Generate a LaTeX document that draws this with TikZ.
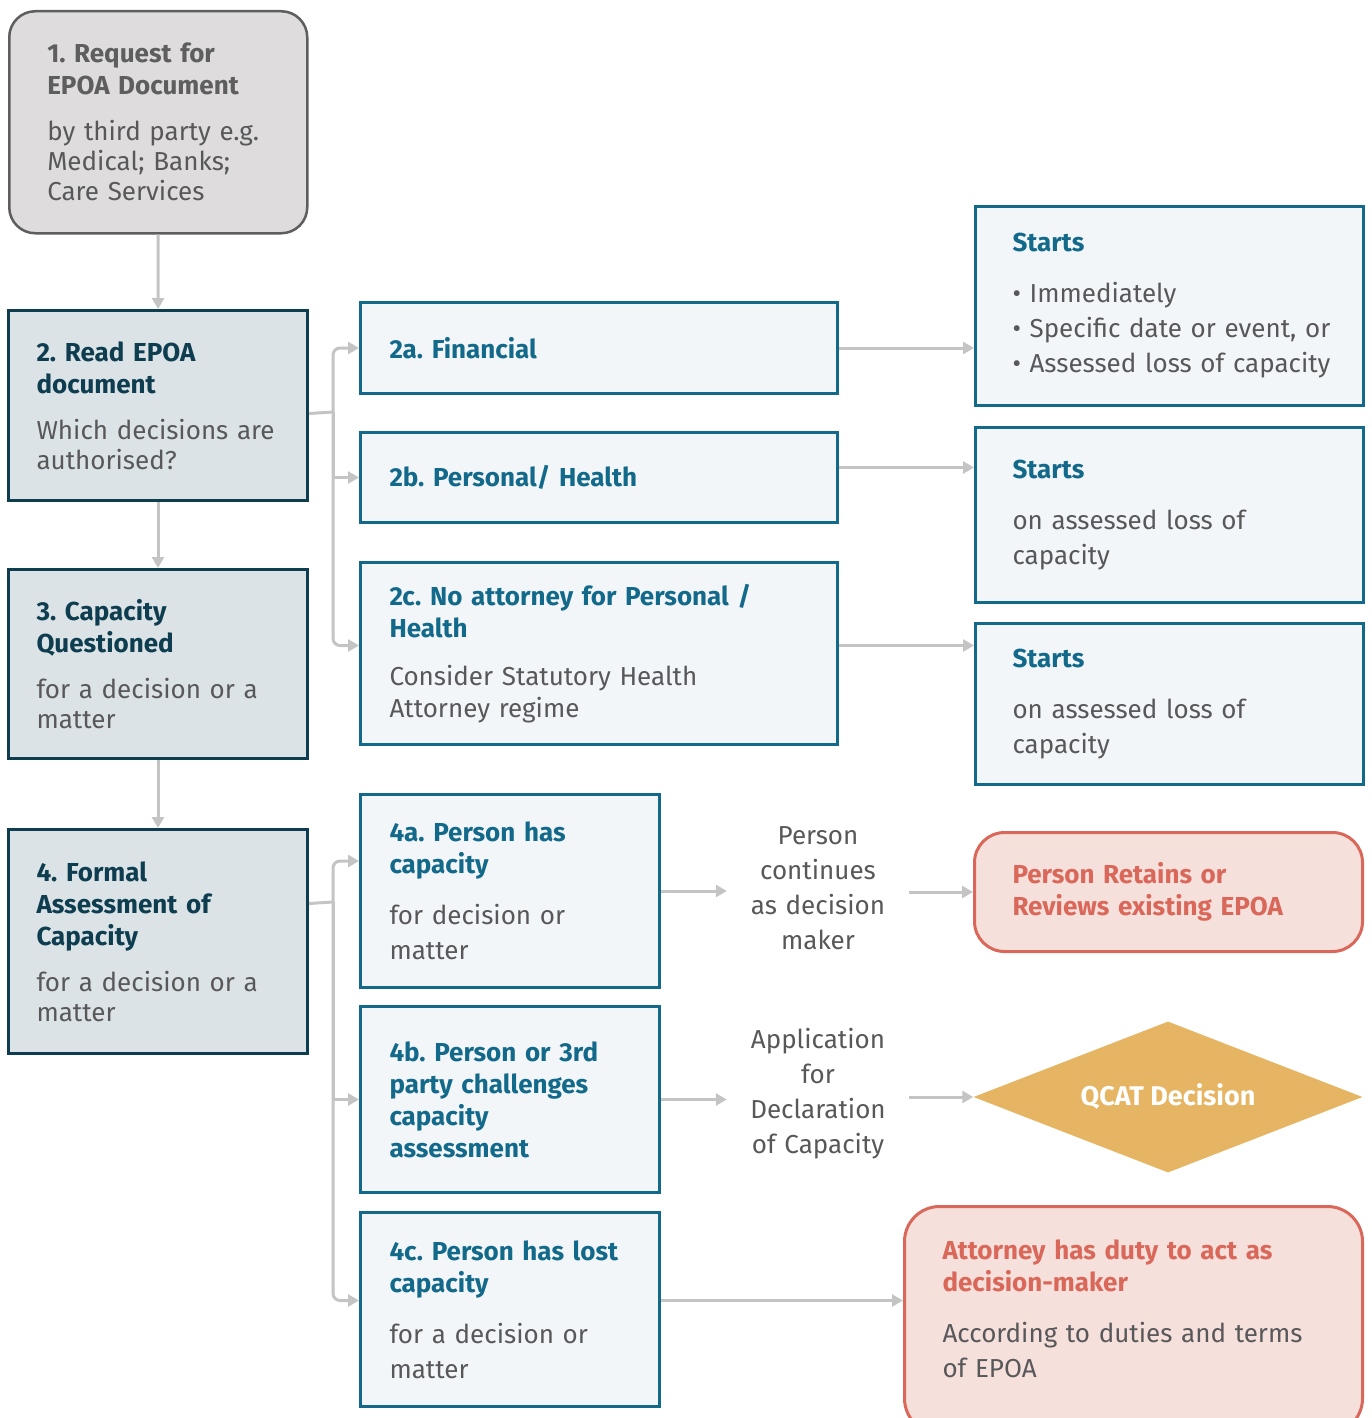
\documentclass[tikz,border=0pt]{standalone}
\usepackage{fontspec}
\setmainfont{Fira Sans}
\usetikzlibrary{arrows.meta}
\usetikzlibrary{positioning}
\usetikzlibrary{shapes.geometric}
\frenchspacing

\definecolor{reqgrey}{HTML}{DEDCDD}
\definecolor{reqedge}{HTML}{5E5E5E}
\definecolor{darkteal}{HTML}{0E3D50}
\definecolor{paleteal}{HTML}{DCE3E6}
\definecolor{midteal}{HTML}{13698A}
\definecolor{paleblue}{HTML}{F3F6F9}
\definecolor{txtgrey}{HTML}{58585A}
\definecolor{linkgrey}{HTML}{C4C4C4}
\definecolor{coral}{HTML}{D9685A}
\definecolor{palecoral}{HTML}{F6E0DB}
\definecolor{gold}{HTML}{E6B564}

\newcommand{\hd}[2]{{\color{#1}\bfseries\fontsize{26}{32}\selectfont #2\par}}
\newcommand{\gap}{\vspace{16pt}}
\newcommand{\bul}[1]{\mbox{\textbullet\ #1}}

\begin{document}
\begin{tikzpicture}[x=1pt, y=-1pt,
  box/.style={draw, line width=3pt, anchor=north west, align=left, text=txtgrey,
    font=\fontsize{26}{30}\selectfont},
  leftbox/.style={box, fill=paleteal, draw=darkteal, inner xsep=28pt, text width=243pt},
  subbox/.style={box, fill=paleblue, draw=midteal, inner xsep=29pt},
  startbox/.style={box, fill=paleblue, draw=midteal, inner xsep=37pt, text width=314pt,
    font=\fontsize{26}{35}\selectfont},
  endbox/.style={box, fill=palecoral, draw=coral, inner xsep=38pt},
  midtext/.style={align=center, text=txtgrey, text width=140pt, inner xsep=21pt,
    font=\fontsize{26}{35}\selectfont},
  link/.style={draw=linkgrey, line width=3pt, -{Triangle[length=11pt,width=12pt]}}]

\useasboundingbox (0,0) rectangle (1371,1418);
\clip (0,0) rectangle (1371,1418);

% left column
\node[box, fill=reqgrey, draw=reqedge, line width=2.5pt, rounded corners=26pt,
  inner xsep=38pt, text width=222pt, minimum height=222pt] (request) at (8,10)
  {\hd{reqedge}{1. Request for\\EPOA Document}\gap
   by third party e.g.\\Medical; Banks;\\Care Services};
\node[leftbox, minimum height=190pt] (read) at (7,309)
  {\hd{darkteal}{2. Read EPOA\\document}\gap
   Which decisions are\\authorised?};
\node[leftbox, minimum height=189pt] (capq) at (7,568)
  {\hd{darkteal}{3. Capacity\\Questioned}\gap
   for a decision or a\\matter};
\node[leftbox, minimum height=224pt] (formal) at (7,828)
  {\hd{darkteal}{4. Formal\\Assessment of\\Capacity}\gap
   for a decision or a\\matter};

% authorised decisions
\node[subbox, text width=419pt, minimum height=91pt] (fin) at (359,301)
  {\hd{midteal}{2a. Financial}};
\node[subbox, text width=419pt, minimum height=90pt] (pers) at (359,431)
  {\hd{midteal}{2b. Personal/ Health}};
\node[subbox, text width=419pt, minimum height=182pt, font=\fontsize{26}{32}\selectfont] (noatt) at (359,561)
  {\hd{midteal}{2c. No attorney for Personal /\\Health}\gap
   Consider Statutory Health\\Attorney regime};

% start of power
\node[startbox, minimum height=199pt] (start1) at (974,205)
  {\hd{midteal}{Starts}\gap
   \bul{Immediately}\\\bul{Specific date or event, or}\\\bul{Assessed loss of capacity}};
\node[startbox, minimum height=175pt] (start2) at (974,426)
  {\hd{midteal}{Starts}\gap
   on assessed loss of\\capacity};
\node[startbox, minimum height=161pt] (start3) at (974,622)
  {\hd{midteal}{Starts}\gap
   on assessed loss of\\capacity};

% assessment outcomes
\node[subbox, text width=241pt, minimum height=193pt, font=\fontsize{26}{35}\selectfont] (hascap) at (359,793)
  {\hd{midteal}{4a. Person has\\capacity}\gap
   for decision or\\matter};
\node[subbox, text width=241pt, minimum height=186pt] (challenge) at (359,1005)
  {\hd{midteal}{4b. Person or 3rd\\party challenges\\capacity\\assessment}};
\node[subbox, text width=241pt, minimum height=194pt, font=\fontsize{26}{35}\selectfont] (lostcap) at (359,1211)
  {\hd{midteal}{4c. Person has lost\\capacity}\gap
   for a decision or\\matter};

\node[midtext] (continues) at (818,888) {Person\\continues\\as decision\\maker};
\node[midtext] (applic) at (818,1094) {Application\\for\\Declaration\\of Capacity};

\node[endbox, rounded corners=30pt, text width=312pt, minimum height=119pt] (retain) at (973,831)
  {\hd{coral}{Person Retains or\\Reviews existing EPOA}};
\node[diamond, shape aspect=2.58, fill=gold, inner sep=0pt, minimum width=389pt, minimum height=151pt,
  text=white, font=\fontsize{27}{30}\selectfont\bfseries] (qcat) at (1168,1097) {QCAT Decision};
\node[endbox, rounded corners=35pt, text width=382pt, minimum height=227pt,
  font=\fontsize{26}{35}\selectfont] (duty) at (903,1205)
  {\hd{coral}{Attorney has duty to act as\\decision-maker}\gap
   According to duties and terms\\of EPOA\par\vspace{23pt}};

% down the left column
\draw[link] (request) -- (read);
\draw[link] (read) -- (capq);
\draw[link] (capq) -- (formal);

% branch from 2
\coordinate (busA) at (333,412);
\draw[draw=linkgrey, line width=3pt] ([yshift=-8pt]read.east) -- (busA);
\draw[link, rounded corners=7pt] (busA) |- (fin.west);
\draw[link] (busA) |- (pers.west);
\draw[link, rounded corners=7pt] (busA) |- ([yshift=8pt]noatt.west);

\coordinate (p2) at ([yshift=10pt]pers.east);
\coordinate (p3) at ([yshift=8pt]noatt.east);
\draw[link] (fin.east) -- (fin.east -| start1.west);
\draw[link] (p2) -- (p2 -| start2.west);
\draw[link] (p3) -- (p3 -| start3.west);

% branch from 4
\coordinate (busB) at (333,902);
\draw[draw=linkgrey, line width=3pt] ([yshift=38pt]formal.east) -- (busB);
\draw[link, rounded corners=7pt] (busB) |- ([yshift=30pt]hascap.west);
\draw[link] (busB) |- (challenge.west);
\draw[link, rounded corners=7pt] (busB) |- ([yshift=9pt]lostcap.west);

\coordinate (p4) at ([yshift=9pt]lostcap.east);
\draw[link] (hascap.east) -- (hascap.east -| continues.west);
\draw[link] (retain.west -| continues.east) -- (retain.west);
\draw[link] (challenge.east) -- (challenge.east -| applic.west);
\draw[link] (qcat.west -| applic.east) -- (qcat.west);
\draw[link] (p4) -- (p4 -| duty.west);
\end{tikzpicture}
\end{document}
